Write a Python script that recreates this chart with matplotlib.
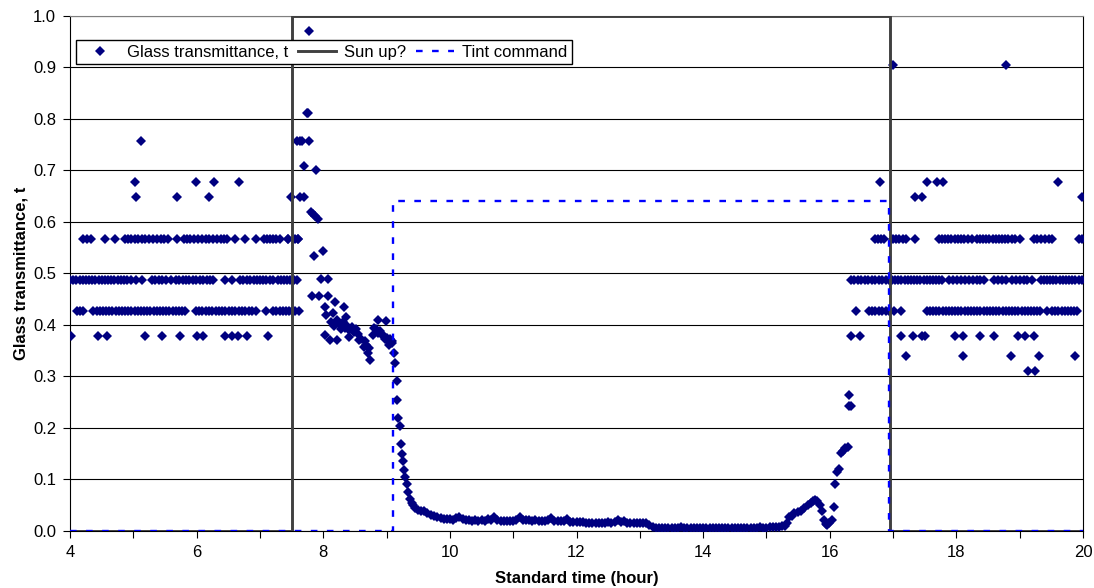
import matplotlib
matplotlib.use("Agg")
import matplotlib.pyplot as plt
import numpy as np

plt.rcParams["font.family"] = ["Liberation Sans", "DejaVu Sans"]

# Night readings sit on a few quantised levels: times (hour) where each level shows up
t_lvl_311 = [19.13, 19.24]
t_lvl_340 = [17.21, 18.11, 18.86, 19.30, 19.87]
t_lvl_379 = [4.02, 4.44, 4.59, 5.19, 5.46, 5.74, 6.01, 6.10, 6.45, 6.56, 6.66, 6.80, 7.13,
             16.34, 16.47, 17.13, 17.32, 17.45, 17.51, 17.97, 18.11, 18.38, 18.59, 18.97,
             19.09, 19.22]
t_lvl_428 = [4.11, 4.16, 4.21, 4.37, 4.42, 4.47, 4.52, 4.57, 4.62, 4.67, 4.72, 4.77, 4.82,
             4.87, 4.92, 4.97, 5.02, 5.07, 5.12, 5.17, 5.22, 5.27, 5.32, 5.37, 5.42, 5.47,
             5.52, 5.57, 5.62, 5.67, 5.72, 5.77, 5.82, 5.99, 6.04, 6.09, 6.14, 6.19, 6.25,
             6.30, 6.35, 6.40, 6.45, 6.51, 6.56, 6.61, 6.67, 6.72, 6.77, 6.82, 6.88, 6.94,
             7.09, 7.21, 7.26, 7.31, 7.36, 7.41, 7.46, 7.51, 7.56, 7.61,
             16.42, 16.62, 16.67, 16.72, 16.78, 16.83, 16.88, 16.94, 17.02, 17.13, 17.53,
             17.58, 17.63, 17.68, 17.73, 17.78, 17.83, 17.88, 17.93, 17.98, 18.03, 18.08,
             18.13, 18.18, 18.23, 18.28, 18.33, 18.38, 18.43, 18.48, 18.53, 18.58, 18.63,
             18.68, 18.73, 18.78, 18.83, 18.88, 18.92, 18.98, 19.03, 19.08, 19.13, 19.18,
             19.23, 19.28, 19.32, 19.43, 19.51, 19.56, 19.61, 19.66, 19.71, 19.76, 19.81,
             19.86, 19.91]
t_lvl_487 = [4.00, 4.05, 4.10, 4.15, 4.20, 4.25, 4.30, 4.35, 4.40, 4.45, 4.50, 4.55, 4.60,
             4.65, 4.70, 4.75, 4.80, 4.85, 4.90, 4.97, 5.04, 5.13, 5.29, 5.34, 5.40, 5.46,
             5.52, 5.60, 5.67, 5.72, 5.78, 5.83, 5.88, 5.94, 5.99, 6.05, 6.10, 6.16, 6.21,
             6.26, 6.45, 6.56, 6.69, 6.74, 6.79, 6.84, 6.90, 6.95, 7.00, 7.05, 7.10, 7.16,
             7.21, 7.28, 7.33, 7.38, 7.43, 7.48, 7.53, 7.58,
             16.34, 16.39, 16.44, 16.50, 16.55, 16.61, 16.66, 16.72, 16.77, 16.82, 16.88,
             16.93, 16.98, 17.03, 17.08, 17.13, 17.18, 17.23, 17.28, 17.33, 17.38, 17.43,
             17.48, 17.53, 17.58, 17.63, 17.68, 17.73, 17.77, 17.88, 17.94, 18.01, 18.08,
             18.14, 18.20, 18.26, 18.32, 18.38, 18.44, 18.60, 18.66, 18.72, 18.79, 18.88,
             18.94, 19.00, 19.06, 19.12, 19.19, 19.33, 19.38, 19.43, 19.48, 19.53, 19.58,
             19.63, 19.68, 19.73, 19.78, 19.83, 19.88, 19.93, 19.98]
t_lvl_567 = [4.21, 4.27, 4.33, 4.55, 4.71, 4.87, 4.92, 4.97, 5.02, 5.08, 5.13, 5.19, 5.25,
             5.31, 5.37, 5.43, 5.49, 5.55, 5.69, 5.80, 5.85, 5.90, 5.96, 6.02, 6.08, 6.14,
             6.20, 6.26, 6.32, 6.38, 6.43, 6.48, 6.61, 6.77, 6.94, 7.06, 7.11, 7.16, 7.21,
             7.26, 7.32, 7.45, 7.56, 7.60,
             16.71, 16.76, 16.81, 16.86, 17.00, 17.05, 17.10, 17.16, 17.21, 17.35, 17.72,
             17.77, 17.82, 17.87, 17.92, 17.97, 18.02, 18.07, 18.12, 18.18, 18.24, 18.32,
             18.37, 18.42, 18.47, 18.52, 18.57, 18.62, 18.67, 18.72, 18.77, 18.82, 18.87,
             18.92, 19.00, 19.22, 19.28, 19.34, 19.40, 19.46, 19.51, 19.94, 19.99]
t_lvl_648 = [5.05, 5.69, 6.20, 7.49, 7.64, 7.69, 17.34, 17.45, 19.98]
t_lvl_678 = [5.03, 5.99, 6.28, 6.67, 16.80, 17.54, 17.69, 17.79, 19.61]
t_lvl_757 = [5.12, 7.59, 7.63, 7.67, 7.78]
t_lvl_905 = [17.00, 18.78]

# Sunrise transition, tint decay and daytime readings
day_t = [7.45, 7.60, 7.70, 7.74, 7.76, 7.78, 7.80, 7.84, 7.87, 7.91, 7.85, 7.89, 8.00,
         7.96, 8.08, 7.82, 7.93, 8.08, 8.19, 8.32, 8.03, 8.05, 8.15, 8.36, 8.02, 8.11, 8.22,
         8.12, 8.17, 8.21, 8.25, 8.28, 8.31, 8.34, 8.38, 8.41, 8.45, 8.48, 8.52, 8.55, 8.40,
         8.56, 8.64, 8.70, 8.74, 8.60, 8.66, 8.68, 8.72,
         8.78, 8.86, 8.99, 8.80, 8.83, 8.86, 8.89, 8.92, 8.95, 8.97, 9.00, 9.02, 9.04, 9.06,
         9.08, 9.09, 9.12, 9.14, 9.16, 9.17, 9.18, 9.21, 9.22, 9.25, 9.26, 9.27, 9.29, 9.32,
         9.34, 9.37, 9.40, 9.42, 9.45, 9.49, 9.54, 9.59, 9.64, 9.70, 9.75, 9.80, 9.86,
         9.90, 9.95, 10.00, 10.05, 10.10, 10.15, 10.20, 10.25, 10.30, 10.35, 10.40, 10.45,
         10.50, 10.55, 10.60, 10.65, 10.70, 10.75, 10.80, 10.85, 10.90, 10.95, 11.00, 11.05,
         11.10, 11.15, 11.20, 11.25, 11.30, 11.35, 11.40, 11.45, 11.50, 11.55, 11.60, 11.65,
         11.70, 11.75, 11.80, 11.85, 11.90, 11.95, 12.00, 12.05, 12.10, 12.15, 12.20, 12.25,
         12.30, 12.35, 12.40, 12.45, 12.50, 12.55, 12.60, 12.65, 12.70, 12.75, 12.80, 12.85,
         12.90, 12.95, 13.00, 13.05, 13.10, 13.15, 13.20, 13.25, 13.30, 13.35, 13.40, 13.45,
         13.50, 13.55, 13.60, 13.65, 13.70, 13.75, 13.80, 13.85, 13.90, 13.95, 14.00, 14.05,
         14.10, 14.15, 14.20, 14.25, 14.30, 14.35, 14.40, 14.45, 14.50, 14.55, 14.60, 14.65,
         14.70, 14.75, 14.80, 14.85, 14.90, 14.95, 15.00, 15.05, 15.10, 15.15, 15.20, 15.25,
         15.30, 15.33, 15.36, 15.40, 15.44, 15.50, 15.55, 15.60, 15.66, 15.70, 15.74, 15.77,
         15.80, 15.84, 15.87, 15.91, 15.94, 15.96, 15.99, 16.03, 16.07, 16.09, 16.12, 16.14,
         16.18, 16.21, 16.24, 16.28, 16.30, 16.33, 16.30]
day_v = [0.566, 0.566, 0.709, 0.811, 0.811, 0.971, 0.620, 0.615, 0.611, 0.606, 0.533, 0.701,
         0.544, 0.489, 0.489, 0.456, 0.456, 0.456, 0.445, 0.435, 0.434, 0.419, 0.424, 0.416,
         0.381, 0.370, 0.371,
         0.405, 0.398, 0.410, 0.401, 0.392, 0.405, 0.395, 0.398, 0.390, 0.396, 0.387, 0.392,
         0.383, 0.377, 0.371, 0.358, 0.345, 0.332, 0.372, 0.368, 0.362, 0.355,
         0.381, 0.410, 0.408, 0.395, 0.392, 0.385, 0.388, 0.382, 0.378, 0.372, 0.375, 0.368,
         0.362, 0.372, 0.368, 0.364, 0.345, 0.327, 0.291, 0.254, 0.219, 0.204, 0.168, 0.150,
         0.135, 0.118, 0.105, 0.091, 0.076, 0.063, 0.055, 0.050, 0.045, 0.041, 0.039, 0.038,
         0.034, 0.031, 0.029, 0.027, 0.025,
         0.024, 0.023, 0.024, 0.022, 0.025, 0.028, 0.023, 0.021, 0.021, 0.020, 0.021, 0.020,
         0.021, 0.020, 0.024, 0.021, 0.027, 0.022, 0.020, 0.019, 0.020, 0.019, 0.020, 0.022,
         0.027, 0.022, 0.021, 0.021, 0.020, 0.021, 0.020, 0.020, 0.019, 0.021, 0.026, 0.020,
         0.019, 0.019, 0.020, 0.024, 0.018, 0.017, 0.017, 0.018, 0.017, 0.016, 0.015, 0.016,
         0.015, 0.015, 0.016, 0.016, 0.017, 0.016, 0.018, 0.021, 0.017, 0.020, 0.016, 0.016,
         0.016, 0.016, 0.016, 0.016, 0.015, 0.012, 0.007, 0.006, 0.006, 0.005, 0.006, 0.006,
         0.005, 0.006, 0.006, 0.007, 0.006, 0.005, 0.006, 0.006, 0.005, 0.006, 0.006, 0.005,
         0.006, 0.006, 0.005, 0.006, 0.006, 0.005, 0.006, 0.006, 0.005, 0.006, 0.005, 0.006,
         0.006, 0.005, 0.006, 0.006, 0.007, 0.006, 0.006, 0.007, 0.007, 0.008, 0.008, 0.009,
         0.009, 0.015, 0.028, 0.030, 0.034, 0.036, 0.039, 0.044, 0.050, 0.055, 0.059, 0.060,
         0.059, 0.050, 0.038, 0.021, 0.014, 0.012, 0.015, 0.021, 0.047, 0.091, 0.115, 0.120,
         0.152, 0.156, 0.161, 0.163, 0.243, 0.243, 0.263]

sun_t = [4, 7.5, 7.5, 16.95, 16.95, 20]
sun_v = [0, 0, 1, 1, 0, 0]
tint_t = [4, 9.1, 9.1, 16.93, 16.93, 20]
tint_v = [0, 0, 0.64, 0.64, 0, 0]

# put the glass series together
level_times = {0.311: t_lvl_311, 0.340: t_lvl_340, 0.379: t_lvl_379, 0.428: t_lvl_428,
               0.487: t_lvl_487, 0.567: t_lvl_567, 0.648: t_lvl_648, 0.678: t_lvl_678,
               0.757: t_lvl_757, 0.905: t_lvl_905}
glass_t = list(day_t)
glass_v = list(day_v)
for lvl, times in level_times.items():
    glass_t += times
    glass_v += [lvl] * len(times)

fig = plt.figure(figsize=(10.94, 5.88), dpi=100)
ax = fig.add_axes([0.064, 0.097, 0.926, 0.876])

ax.plot(glass_t, glass_v, ls="none", marker="D", ms=5, color="#000080",
        mew=0, label="Glass transmittance, t", zorder=3)
ax.plot(sun_t, sun_v, color="#404040", lw=2.1, label="Sun up?", zorder=4)
ax.plot(tint_t, tint_v, color="#0000ff", lw=1.7, ls=(0, (2.8, 4.0)),
        label="Tint command", zorder=5)

ax.set_xlim(4, 20)
ax.set_ylim(0, 1.0)
ax.set_xticks(range(4, 21))
ax.set_xticklabels([str(h) if h % 2 == 0 else "" for h in range(4, 21)])
ax.set_yticks(np.arange(0, 1.01, 0.1))
ax.set_yticklabels([f"{v:.1f}" for v in np.arange(0, 1.01, 0.1)])
ax.tick_params(direction="out", length=5, width=0.8, labelsize=12, pad=5)
ax.yaxis.grid(True, color="black", lw=0.8)
ax.set_axisbelow(True)
for side in ax.spines.values():
    side.set_color("black")
    side.set_linewidth(0.8)
ax.spines["top"].set_color("#808080")

ax.set_xlabel("Standard time (hour)", fontsize=12, fontweight="bold", labelpad=8)
ax.set_ylabel("Glass transmittance, t", fontsize=12, fontweight="bold", labelpad=3)

ax.legend(loc="upper left", bbox_to_anchor=(0.006, 0.953), ncol=3, numpoints=1,
          frameon=True, fancybox=False, edgecolor="black", framealpha=1,
          fontsize=12, borderaxespad=0, borderpad=0.28, handlelength=2.3,
          handletextpad=0.45, columnspacing=0.6)

fig.savefig("out.png", dpi=100)
